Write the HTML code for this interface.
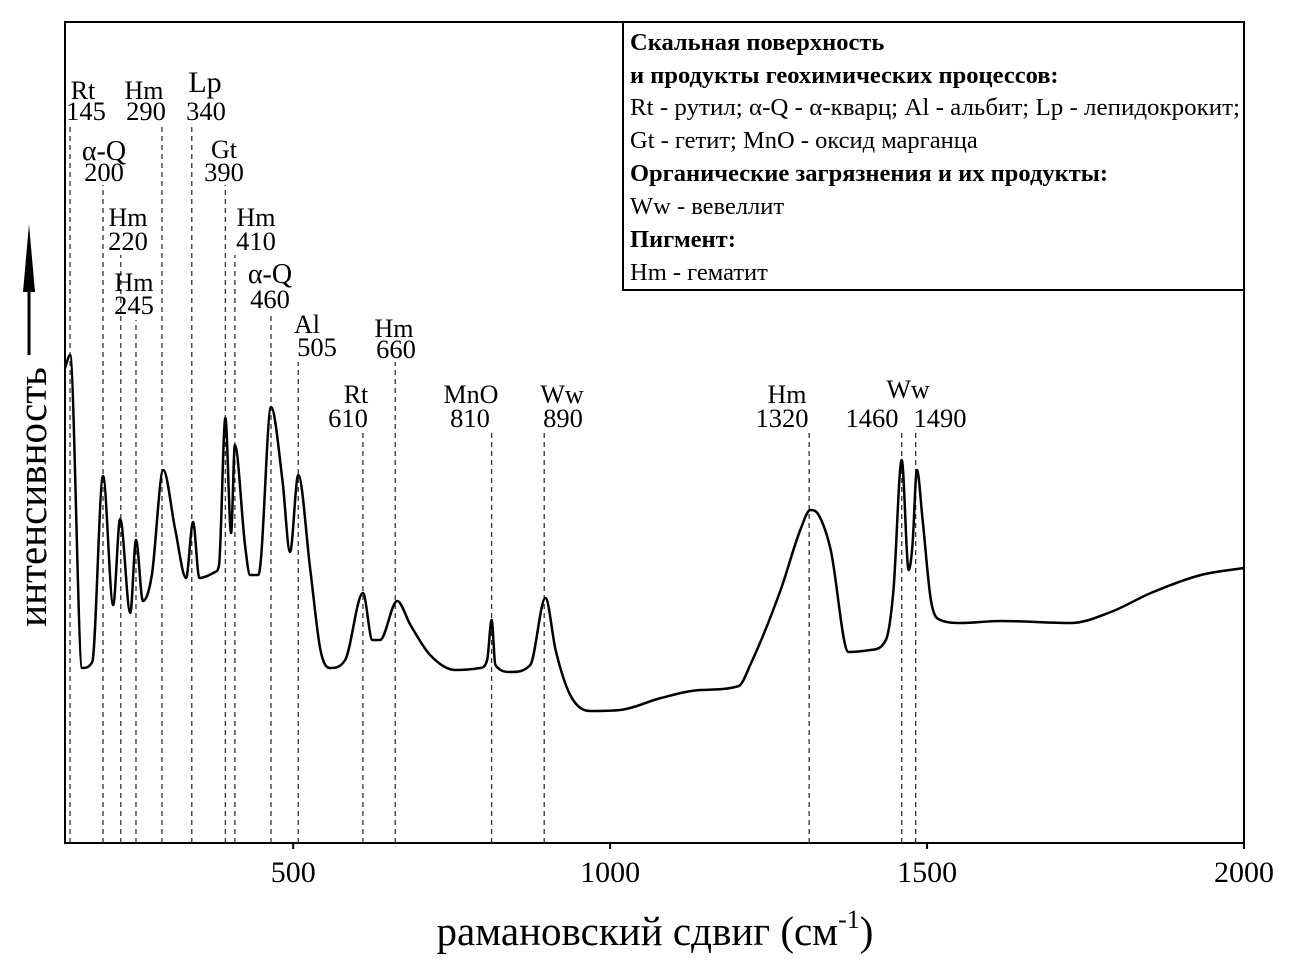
<!DOCTYPE html>
<html><head><meta charset="utf-8"><style>
body{margin:0;background:#fff}
svg text{font-family:"Liberation Serif",serif;fill:#000}
</style></head><body>
<svg id="chart" width="1289" height="972" xmlns="http://www.w3.org/2000/svg">
<rect x="65" y="22" width="1179" height="821" fill="none" stroke="#000" stroke-width="2"/>
<g id="dashes"></g>
<path id="spec" fill="none" stroke="#000" stroke-width="2.5"/>
<g id="ticks"></g>
<g id="labels"></g>
<text x="655" y="945" font-size="41" text-anchor="middle">рамановский сдвиг (см<tspan font-size="26" dy="-17">-1</tspan><tspan dy="17">)</tspan></text>
<g>
<text transform="translate(46,497) rotate(-90)" font-size="41" text-anchor="middle">интенсивность</text>
<line x1="29" y1="355" x2="29" y2="270" stroke="#000" stroke-width="3"/>
<polygon points="29,224 23,292 35,292" fill="#000"/>
</g>
<g>
<rect x="623" y="22" width="621" height="268" fill="#fff" stroke="#000" stroke-width="2"/>
<text x="630" y="50" font-size="24.5" font-weight="bold">Скальная поверхность</text>
<text x="630" y="83" font-size="24.5" font-weight="bold">и продукты геохимических процессов:</text>
<text x="630" y="115" font-size="24.5" textLength="610" lengthAdjust="spacingAndGlyphs">Rt - рутил; α-Q - α-кварц; Al - альбит; Lp - лепидокрокит;</text>
<text x="630" y="148" font-size="24.5">Gt - гетит; MnO - оксид марганца</text>
<text x="630" y="181" font-size="24.5" font-weight="bold">Органические загрязнения и их продукты:</text>
<text x="630" y="214" font-size="24.5">Ww - вевеллит</text>
<text x="630" y="247" font-size="24.5" font-weight="bold">Пигмент:</text>
<text x="630" y="280" font-size="24.5">Hm - гематит</text>
</g>
</svg>
<script>
const wavenumbers=[140,148,167,183,200,216,227,243,252,263,277,295,314,331,342,352,377,383,393,402,408,424,432,445,449,465,483,495,508,527,543,558,582,610,625,637,664,685,716,756,795,806,813,819,843,874,898,914,937,969,1016,1080,1143,1203,1221,1269,1300,1316,1329,1348,1376,1411,1435,1447,1460,1471,1477,1484,1493,1506,1521,1553,1616,1727,1790,1853,1932,2000];
const intensity=[475,488,175,181,367,238,324,230,303,242,268,373,313,265,321,265,271,278,425,310,398,298,268,268,283,436,363,291,368,273,193,175,183,250,203,203,242,218,188,173,175,183,223,178,171,178,245,193,148,132,133,145,153,157,178,253,313,333,328,293,191,193,203,253,383,273,298,373,323,243,223,220,222,220,231,250,268,275];
const peakPos=[148,200,228,252,293,340,393,408,465,508,610,661,813,896,1314,1460,1482];
const peakTop=[125,185,255,320,125,125,185,255,312,362,432,362,432,432,432,432,432];
const xTicks=[500,1000,1500,2000];
const peakNames=["Rt","α-Q","Hm","Hm","Hm","Lp","Gt","Hm","α-Q","Al","Rt","Hm","MnO","Ww","Hm","Ww",""];
const peakNums=["145","200","220","245","290","340","390","410","460","505","610","660","810","890","1320","1460","1490"];
const X=v=>65+(v-140)*(1179/1860);
const Y=i=>843-i*(821/821);
const NS="http://www.w3.org/2000/svg";
const n=wavenumbers.length,xs=wavenumbers.map(X),ys=intensity.map(Y);
const d=[],m=[];
for(let i=0;i<n-1;i++)d.push((ys[i+1]-ys[i])/(xs[i+1]-xs[i]));
m[0]=d[0];m[n-1]=d[n-2];
for(let i=1;i<n-1;i++){m[i]=(d[i-1]*d[i]<=0)?0:(d[i-1]+d[i])/2;}
for(let i=0;i<n-1;i++){if(d[i]===0){m[i]=m[i+1]=0;continue;}const a=m[i]/d[i],b=m[i+1]/d[i],s=a*a+b*b;if(s>9){const t=3/Math.sqrt(s);m[i]=t*a*d[i];m[i+1]=t*b*d[i];}}
let p="M"+xs[0]+","+ys[0];
for(let i=0;i<n-1;i++){const h=xs[i+1]-xs[i];p+=" C"+(xs[i]+h/3)+","+(ys[i]+m[i]*h/3)+" "+(xs[i+1]-h/3)+","+(ys[i+1]-m[i+1]*h/3)+" "+xs[i+1]+","+ys[i+1];}
document.getElementById('spec').setAttribute('d',p);
const dg=document.getElementById('dashes');
peakPos.forEach((v,k)=>{const l=document.createElementNS(NS,'line');


l.setAttribute('x1',X(v));l.setAttribute('x2',X(v));l.setAttribute('y1',843);l.setAttribute('y2',peakTop[k]);
l.setAttribute('stroke','#333');l.setAttribute('stroke-dasharray','5,4');l.setAttribute('stroke-width','1.3');dg.appendChild(l);});
const tg=document.getElementById('ticks');
xTicks.forEach(v=>{const t=document.createElementNS(NS,'text');


t.setAttribute('x',X(v));t.setAttribute('y',882);t.setAttribute('font-size','30');t.setAttribute('text-anchor','middle');t.textContent=v;tg.appendChild(t);
const l=document.createElementNS(NS,'line');


l.setAttribute('x1',X(v));l.setAttribute('x2',X(v));l.setAttribute('y1',843);l.setAttribute('y2',849);l.setAttribute('stroke','#000');l.setAttribute('stroke-width','2');tg.appendChild(l);});
const lay=[[83,99,86,120,26],[104,160,104,181,28],[128,226,128,250,26],[134,291,134,314,26],[144,99,146,120,26],[205,92,206,120,30],[224,158,224,181,26],[256,226,256,250,26],[270,283,270,308,28],[307,333,317,356,26],[356,403,348,427,26],[394,337,396,358,26],[471,403,470,427,26],[562,403,563,427,26],[787,403,782,427,26],[908,398,872,427,26],[0,0,940,427,26]];
const lg=document.getElementById('labels');
peakNames.forEach((nm,k)=>{const L=lay[k];
if(nm){const t=document.createElementNS(NS,'text');


t.setAttribute('x',L[0]);t.setAttribute('y',L[1]);t.setAttribute('font-size',L[4]);t.setAttribute('text-anchor','middle');t.textContent=nm;lg.appendChild(t);}
const u=document.createElementNS(NS,'text');


u.setAttribute('x',L[2]);u.setAttribute('y',L[3]);u.setAttribute('font-size','26.5');u.setAttribute('text-anchor','middle');u.textContent=peakNums[k];lg.appendChild(u);});
</script>
</body></html>
